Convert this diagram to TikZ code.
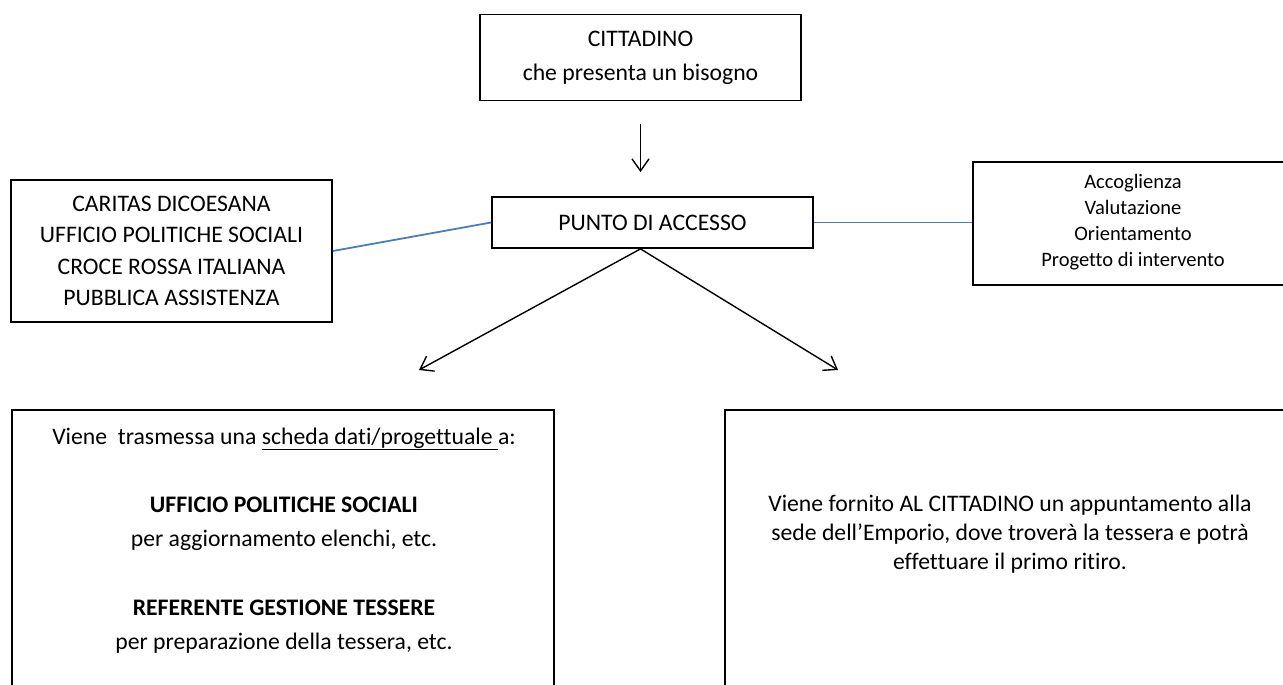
\documentclass[tikz,border=0pt]{standalone}
\usepackage{fontspec}
\setmainfont{Carlito}[Ligatures=NoCommon]
\usetikzlibrary{arrows.meta}
\definecolor{linkblue}{HTML}{4A7EBB}
\begin{document}
\begin{tikzpicture}[x=1pt,y=-1pt,
  box/.style={draw, line width=1.8pt, inner sep=0pt, align=center},
  conn/.style={line width=1.4pt, -{Straight Barb[length=12pt,width=17pt,line width=1.4pt]}},
  link/.style={draw=linkblue, line width=1.8pt},
  txt/.style={align=center, inner sep=0pt}
]
\useasboundingbox (0,0) rectangle (1283,685);
\clip (0,0) rectangle (1283,685);

\node[box, minimum width=321pt, minimum height=86pt, font=\fontsize{23.7}{34}\selectfont] (cit) at (640.5,57.5) {CITTADINO\\che presenta un bisogno};
\node[box, minimum width=321pt, minimum height=51pt, font=\fontsize{23.7}{32}\selectfont] (pa) at (652.5,222.5) {PUNTO DI ACCESSO};
\node[box, minimum width=321pt, minimum height=142pt, font=\fontsize{23.7}{31.5}\selectfont] (ent) at (171.5,251) {CARITAS DICOESANA\\UFFICIO POLITICHE SOCIALI\\CROCE ROSSA ITALIANA\\PUBBLICA ASSISTENZA};
\node[box, minimum width=320pt, minimum height=123pt, font=\fontsize{20.5}{26}\selectfont] (fasi) at (1133,223.5) {Accoglienza\\Valutazione\\Orientamento\\Progetto di intervento\\[-19pt]};
\node[box, minimum width=542pt, minimum height=320pt, anchor=north west] (sx) at (11,409) {};
\node[box, minimum width=572pt, minimum height=320pt, anchor=north west] (dx) at (724,409) {};

\node[txt, font=\fontsize{23.7}{34.2}\selectfont] (sxt) at (284,540.5) {Viene\ \ trasmessa una \underline{scheda dati/progettuale\ }a:\\[34.2pt]\textbf{UFFICIO POLITICHE SOCIALI}\\per aggiornamento elenchi, etc.\\[34.2pt]\textbf{REFERENTE GESTIONE TESSERE}\\per preparazione della tessera, etc.};
\node[txt, font=\fontsize{23.7}{29}\selectfont] (dxt) at (1010,534) {Viene fornito AL CITTADINO un appuntamento alla\\sede dell’Emporio, dove troverà la tessera e potrà\\effettuare il primo ritiro.};

\coordinate (pl) at (419,370);
\coordinate (pr) at (838,370);

\draw[conn, shorten <=23pt, shorten >=24pt] (cit.south) -- (cit.south |- pa.north);
\draw[conn] (cit.south |- pa.south) -- (pl);
\draw[conn] (cit.south |- pa.south) -- (pr);
\draw[link] (ent.east) -- (pa.west);
\draw[link] (pa.east) -- (pa.east -| fasi.west);
\end{tikzpicture}
\end{document}
